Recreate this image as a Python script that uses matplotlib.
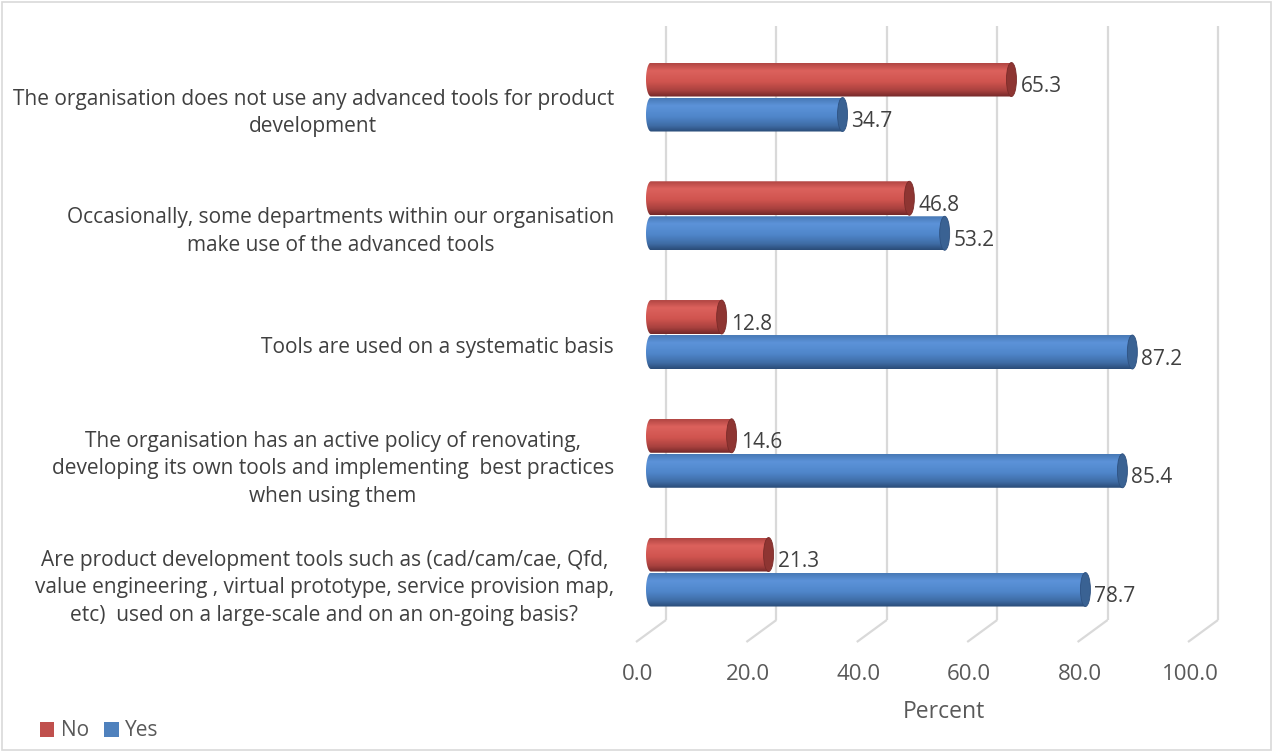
import numpy as np
import matplotlib
matplotlib.use("Agg")
import matplotlib.pyplot as plt
from matplotlib.path import Path
from matplotlib.patches import PathPatch, Ellipse, Patch, Rectangle
from matplotlib.colors import LinearSegmentedColormap
import matplotlib.transforms as mtransforms

# ---- data ----
categories = [
    "The organisation does not use any advanced tools for product\ndevelopment",
    "Occasionally, some departments within our organisation\nmake use of the advanced tools",
    "Tools are used on a systematic basis",
    "The organisation has an active policy of renovating,\ndeveloping its own tools and implementing  best practices\nwhen using them",
    "Are product development tools such as (cad/cam/cae, Qfd,\nvalue engineering , virtual prototype, service provision map,\netc)  used on a large-scale and on an on-going basis?",
]
no_values = [65.3, 46.8, 12.8, 14.6, 21.3]
yes_values = [34.7, 53.2, 87.2, 85.4, 78.7]
series_names = ["No", "Yes"]
x_ticks = [0, 20, 40, 60, 80, 100]

plt.rcParams['font.family'] = ['Open Sans', 'DejaVu Sans']

W, H = 1272, 751
fig = plt.figure(figsize=(W / 100, H / 100), dpi=100)
fig.patch.set_facecolor('white')

# plot area in pixels: value 0 sits at x0_px, value 100 at x100_px
x0_px, x100_px = 651, 1203
ax_left, ax_right, ax_top, ax_bottom = 638, 1203, 26, 620
px_x = 100 / (x100_px - x0_px)
xlo = -(x0_px - ax_left) * px_x
xhi = 100
ax = fig.add_axes([ax_left / W, (H - ax_bottom) / H,
                   (ax_right - ax_left) / W, (ax_bottom - ax_top) / H])
ax.patch.set_visible(False)
for s in ax.spines.values():
    s.set_visible(False)

n = len(categories)
ypos = np.arange(n)[::-1].astype(float)
ylo, yhi = -0.404, 4.598
px_y = (yhi - ylo) / (ax_bottom - ax_top)

grid_col = '#D9D9D9'
depth = 15  # px shift between front and back plane

# back-wall gridlines and floor edges
for v in x_ticks:
    xb = v + depth * px_x
    ax.plot([xb, xb], [ylo, yhi], color=grid_col, lw=1.6, zorder=0,
            solid_capstyle='butt', clip_on=False)
    ax.plot([xb, v - depth * px_x], [ylo, ylo - 22 * px_y], color=grid_col,
            lw=1.6, zorder=0, clip_on=False, solid_capstyle='butt')

red_stops = [(0.0, '#B24643'), (0.22, '#DC625D'), (0.55, '#D0544F'),
             (0.82, '#A8413E'), (1.0, '#74292A')]
blue_stops = [(0.0, '#4879B6'), (0.22, '#5C93D9'), (0.55, '#4F86CA'),
              (0.82, '#3F6CA5'), (1.0, '#2A4C78')]


def gradient(stops):
    cmap = LinearSegmentedColormap.from_list('g', stops)
    return cmap(np.linspace(0, 1, 64))[:, None, :]


def cylinder(v, yc, h, stops, cap_col, edge_col, z):
    w = 10 * px_x
    y0, y1 = yc - h / 2, yc + h / 2
    t = np.linspace(np.pi / 2, 3 * np.pi / 2, 40)
    left = np.column_stack([w / 2 * np.cos(t), yc + h / 2 * np.sin(t)])
    verts = np.vstack([left, [[v, y0], [v, y1], [0, y1]]])
    clip = PathPatch(Path(verts), fc='none', ec='none', zorder=z)
    ax.add_patch(clip)
    im = ax.imshow(gradient(stops), extent=(-w / 2, v, y0, y1), aspect='auto',
                   origin='upper', interpolation='bilinear', zorder=z)
    im.set_clip_path(clip)
    ax.add_patch(Ellipse((v, yc), w, h, fc=cap_col, ec=edge_col, lw=0.6,
                         zorder=z + 0.1))


bar_h = 34 * px_y
text_col = '#404040'
for i in range(n):
    yc_no = ypos[i] + 17.5 * px_y
    yc_yes = ypos[i] - 17.5 * px_y
    cylinder(no_values[i], yc_no, bar_h, red_stops, '#8E3532', '#7A2B29', 2 + i)
    cylinder(yes_values[i], yc_yes, bar_h, blue_stops, '#3A6293', '#2E5180', 2.5 + i)
    for v, yc in ((no_values[i], yc_no), (yes_values[i], yc_yes)):
        ax.annotate(f"{v:.1f}", xy=(v, yc), xytext=(9 * 0.72, -7 * 0.72),
                    textcoords='offset points', ha='left', va='center',
                    fontsize=15, color=text_col, zorder=20)

ax.set_xlim(xlo, xhi)
ax.set_ylim(ylo, yhi)
ax.set_aspect('auto')

# axis ticks
ax.set_xticks(x_ticks)
ax.set_xticklabels([f"{v:.1f}" for v in x_ticks], fontsize=16, color='#595959')
ax.tick_params(axis='x', length=0, pad=32)
ax.set_yticks(ypos)
ax.set_yticklabels(categories, fontsize=15, color=text_col)
ax.tick_params(axis='y', length=0, pad=(ax_left - 614) * 0.72)

shift_x = mtransforms.ScaledTranslation(-13 / 100, 0, fig.dpi_scale_trans)
for lbl in ax.get_xticklabels():
    lbl.set_transform(lbl.get_transform() + shift_x)
shift_y = mtransforms.ScaledTranslation(0, -10 / 100, fig.dpi_scale_trans)
for lbl in ax.get_yticklabels():
    lbl.set_transform(lbl.get_transform() + shift_y)
    lbl.set_multialignment('center')
    lbl.set_linespacing(1.4)

ax.set_xlabel("Percent", fontsize=16.5, color='#595959')
ax.xaxis.set_label_coords((944 - ax_left) / (ax_right - ax_left),
                          -(712 - ax_bottom) / (ax_bottom - ax_top))
ax.xaxis.label.set_va('center')

# legend
handles = [Patch(fc='#C0504D', ec='none'), Patch(fc='#4F81BD', ec='none')]
fig.legend(handles, series_names, loc='center left',
           bbox_to_anchor=(21 / W, 1 - 731 / H), ncol=2, frameon=False,
           fontsize=15, handlelength=0.7, handleheight=0.7,
           handletextpad=0.3, columnspacing=0.75, labelcolor='#595959')

# chart border
fig.add_artist(Rectangle((1.5 / W, 1.5 / H), (W - 3) / W, (H - 3) / H,
                         transform=fig.transFigure, fill=False,
                         ec='#D9D9D9', lw=1.2))

fig.savefig('out.png', dpi=100)
